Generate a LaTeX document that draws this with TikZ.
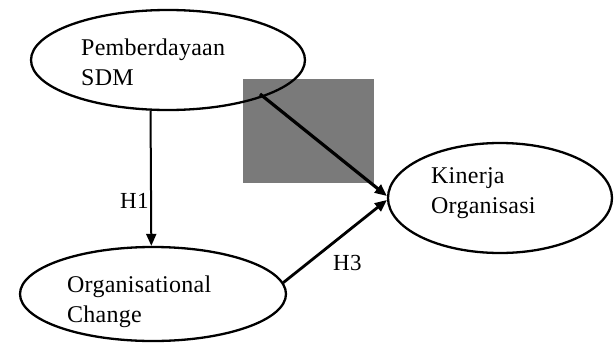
\documentclass[tikz,border=0pt]{standalone}
\usepackage{fontspec}
\setmainfont{Liberation Serif}[LetterSpace=1]
\usetikzlibrary{shapes.geometric,arrows.meta}
\definecolor{boxgray}{RGB}{122,122,122}
\begin{document}
\begin{tikzpicture}[x=1pt,y=-1pt,
  oval/.style={draw=black,line width=2.3pt,ellipse,inner sep=0pt},
  lbl/.style={font=\fontsize{24}{30}\selectfont,align=left,anchor=north west,inner sep=0pt},
  hyp/.style={font=\fontsize{23}{24}\selectfont,inner sep=0pt,anchor=base west},
  arr/.style={line width=2pt,-{Triangle[length=12pt,width=10pt]}}]
\useasboundingbox (0,0) rectangle (616,343);
\fill[white] (0,0) rectangle (616,343);
\node[fill=boxgray,minimum width=131pt,minimum height=104pt,inner sep=0pt,anchor=north west] (R) at (243,79) {};
\node[oval,minimum width=274pt,minimum height=100pt] (P) at (168,60) {};
\node[oval,minimum width=266pt,minimum height=94pt] (O) at (153,294) {};
\node[oval,minimum width=224pt,minimum height=110pt] (K) at (500,198) {};
\node[lbl] (Pt) at (81,39) {Pemberdayaan\\SDM};
\node[lbl] (Ot) at (67,276) {Organisational\\Change};
\node[lbl] (Kt) at (431,167) {Kinerja\\Organisasi};
\coordinate (s) at (260,94);
\draw[arr] (P.251) -- (O.92);
\draw[arr,line width=3.2pt] (s) -- (K.179);
\draw[arr,line width=2.8pt] (O.5) -- (K.181);
\node[hyp] (h1) at (120,208) {H1};
\node[hyp] (h3) at (333,270) {H3};
\end{tikzpicture}
\end{document}
